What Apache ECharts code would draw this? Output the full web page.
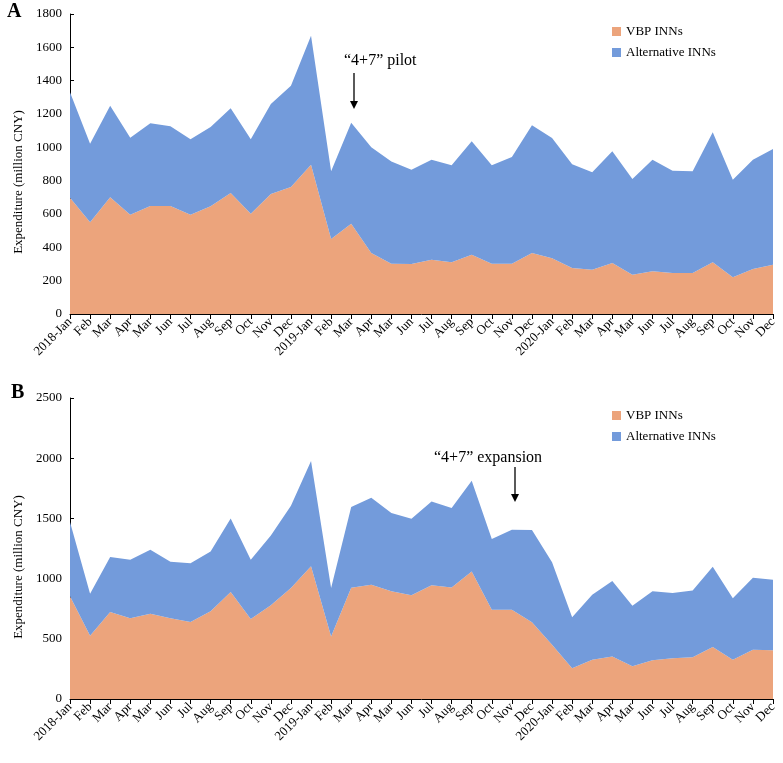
<!DOCTYPE html>
<html>
<head>
<meta charset="utf-8">
<script src="https://cdn.jsdelivr.net/npm/echarts@6/dist/echarts.min.js"></script>
<style>
  html, body { margin: 0; padding: 0; background: #fff; }
  #chart { width: 783px; height: 763px; }
</style>
</head>
<body>
<div id="chart"></div>
<script>
  // month labels, as printed in the source figure (incl. its "Mar" for May)
  var months = ['2018-Jan','Feb','Mar','Apr','Mar','Jun','Jul','Aug','Sep','Oct','Nov','Dec',
    '2019-Jan','Feb','Mar','Apr','Mar','Jun','Jul','Aug','Sep','Oct','Nov','Dec',
    '2020-Jan','Feb','Mar','Apr','Mar','Jun','Jul','Aug','Sep','Oct','Nov','Dec'];

  // panel A: "4+7" pilot
  var vbpA = [698, 550, 700, 596, 648, 648, 596, 646, 726, 602, 720, 762,
    896, 450, 542, 366, 302, 300, 326, 310, 356, 302, 302, 366,
    334, 276, 266, 306, 236, 256, 246, 246, 310, 220, 270, 296];
  var altA = [632, 472, 550, 462, 496, 478, 452, 476, 508, 446, 540, 608,
    774, 406, 606, 634, 613, 566, 600, 582, 680, 590, 640, 766,
    722, 622, 584, 670, 574, 670, 614, 610, 780, 586, 656, 694];

  // panel B: "4+7" expansion
  var vbpB = [853, 526, 722, 670, 709, 670, 639, 728, 889, 664, 778, 922,
    1102, 520, 924, 949, 895, 861, 944, 927, 1060, 742, 742, 637,
    451, 255, 327, 354, 271, 321, 338, 346, 432, 327, 410, 404];
  var altB = [617, 349, 457, 487, 531, 470, 488, 498, 611, 493, 581, 683,
    874, 402, 670, 723, 650, 636, 697, 659, 753, 587, 664, 766,
    684, 423, 539, 626, 504, 573, 542, 556, 667, 509, 598, 587];

  var yTitle = 'Expenditure (million CNY)';
  var serif = '"Liberation Serif", "DejaVu Serif", serif';
  var orange = '#eca47c';
  var blue = '#739bdb';

  function xAxisFor(idx) {
    return {
      type: 'category', gridIndex: idx, data: months, boundaryGap: false,
      axisLine: { lineStyle: { color: '#000', width: 1 } },
      axisTick: { show: true, interval: 0, length: 5, lineStyle: { color: '#000' } },
      axisLabel: { interval: 0, rotate: 45, color: '#000', fontFamily: serif, fontSize: 13, margin: 6 }
    };
  }
  function yAxisFor(idx, max, step) {
    return {
      type: 'value', gridIndex: idx, min: 0, max: max, interval: step,
      axisLine: { show: true, lineStyle: { color: '#000', width: 1 } },
      axisTick: { show: true, inside: true, length: 4, lineStyle: { color: '#000' } },
      axisLabel: { color: '#000', fontFamily: serif, fontSize: 13, margin: 8,
        formatter: function (v) { return String(v); } },
      splitLine: { show: false }
    };
  }
  function areaSeries(name, data, idx, color) {
    return {
      name: name, type: 'line', xAxisIndex: idx, yAxisIndex: idx, stack: 'p' + idx,
      data: data, symbol: 'none', lineStyle: { width: 0 },
      areaStyle: { color: color, opacity: 1 }, itemStyle: { color: color }
    };
  }
  function legendAt(top) {
    return {
      orient: 'vertical', left: 607, top: top, icon: 'rect', itemWidth: 9, itemHeight: 9,
      itemGap: 8, data: ['VBP INNs', 'Alternative INNs'],
      textStyle: { color: '#000', fontFamily: serif, fontSize: 13 }
    };
  }
  function arrow(x, y1, y2) {
    return [
      { type: 'line', shape: { x1: x, y1: y1, x2: x, y2: y2 - 6 }, style: { stroke: '#000', lineWidth: 1.3 } },
      { type: 'polygon', shape: { points: [[x - 4, y2 - 8], [x + 4, y2 - 8], [x, y2]] }, style: { fill: '#000' } }
    ];
  }
  function yName(cy) {
    return { type: 'text', x: 19, y: cy, rotation: Math.PI / 2,
      style: { text: yTitle, font: '13px ' + serif, fill: '#000', align: 'center', verticalAlign: 'middle' } };
  }

  var myChart = echarts.init(document.getElementById('chart'));
  var option = {
    animation: false,
    grid: [
      { left: 70, top: 14, width: 703, height: 300 },
      { left: 70, top: 398, width: 703, height: 301 }
    ],
    xAxis: [xAxisFor(0), xAxisFor(1)],
    yAxis: [yAxisFor(0, 1800, 200), yAxisFor(1, 2500, 500)],
    legend: [legendAt(20), legendAt(404)],
    series: [
      areaSeries('VBP INNs', vbpA, 0, orange),
      areaSeries('Alternative INNs', altA, 0, blue),
      areaSeries('VBP INNs', vbpB, 1, orange),
      areaSeries('Alternative INNs', altB, 1, blue)
    ],
    graphic: [
      { type: 'text', left: 7, top: 2, style: { text: 'A', font: 'bold 20px ' + serif, fill: '#000' } },
      { type: 'text', left: 11, top: 383, style: { text: 'B', font: 'bold 20px ' + serif, fill: '#000' } },
      { type: 'text', left: 344, top: 53, style: { text: '\u201c4+7\u201d pilot', font: '16px ' + serif, fill: '#000' } },
      { type: 'text', left: 434, top: 450, style: { text: '\u201c4+7\u201d expansion', font: '16px ' + serif, fill: '#000' } },
      yName(182),
      yName(567)
    ].concat(arrow(354, 73, 109)).concat(arrow(515, 467, 502))
  };
  myChart.setOption(option);
</script>
</body>
</html>
